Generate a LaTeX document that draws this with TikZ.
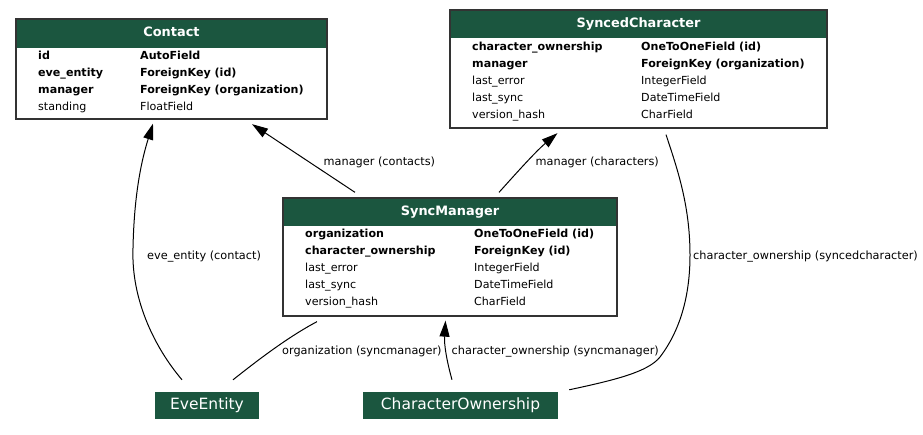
\documentclass[tikz,border=0pt]{standalone}
\usepackage{fontspec}
\setmainfont{DejaVu Sans}
\usetikzlibrary{arrows.meta}
\definecolor{hdr}{HTML}{1B563F}
\begin{document}
\begin{tikzpicture}[x=1pt,y=-1pt,
 tbl/.style={draw=black!80,line width=1.3pt,fill=white,rectangle,inner sep=0pt},
 hdrfill/.style={fill=hdr},
 ttl/.style={anchor=base,text=white,font=\fontsize{12.9}{14}\selectfont\bfseries,inner sep=0pt},
 fld/.style={anchor=base west,font=\fontsize{11.1}{13}\selectfont,inner sep=0pt},
 bfld/.style={anchor=base west,font=\fontsize{11.1}{13}\selectfont\bfseries,inner sep=0pt},
 ext/.style={fill=hdr,text=white,font=\fontsize{15.5}{17}\selectfont,inner sep=0pt,rectangle,minimum height=27pt,text height=11.5pt,text depth=3.5pt},
 lbl/.style={anchor=base west,font=\fontsize{11.3}{13}\selectfont,inner sep=0pt},
 rel/.style={line width=1pt,draw=black},
 arr/.style={rel,-{Triangle[length=16pt,width=10pt]}},
]
\useasboundingbox[fill=white] (0,0) rectangle (923,435);

% ---------- Contact ----------
\node[tbl,minimum width=311pt,minimum height=100pt] (contact) at (171.5,69) {};
\fill[hdrfill] ([shift={(2,2)}]contact.north west) rectangle ([shift={(-2,30)}]contact.north east);
\node[ttl] (contactT) at (171.5,36.7) {Contact};
\node[bfld] (c1a) at (38,59.3) {id};
\node[bfld] (c1b) at (140,59.3) {AutoField};
\node[bfld] (c2a) at (38,76.5) {eve\_entity};
\node[bfld] (c2b) at (140,76.5) {ForeignKey (id)};
\node[bfld] (c3a) at (38,93.7) {manager};
\node[bfld] (c3b) at (140,93.7) {ForeignKey (organization)};
\node[fld] (c4a) at (38,110.8) {standing};
\node[fld] (c4b) at (140,110.8) {FloatField};

% ---------- SyncedCharacter ----------
\node[tbl,minimum width=377pt,minimum height=118pt] (synced) at (638.5,69) {};
\fill[hdrfill] ([shift={(2,2)}]synced.north west) rectangle ([shift={(-2,29)}]synced.north east);
\node[ttl] (syncedT) at (638.5,27.3) {SyncedCharacter};
\node[bfld] (s1a) at (472,50.7) {character\_ownership};
\node[bfld] (s1b) at (641,50.7) {OneToOneField (id)};
\node[bfld] (s2a) at (472,67.8) {manager};
\node[bfld] (s2b) at (641,67.8) {ForeignKey (organization)};
\node[fld] (s3a) at (472,85) {last\_error};
\node[fld] (s3b) at (641,85) {IntegerField};
\node[fld] (s4a) at (472,102) {last\_sync};
\node[fld] (s4b) at (641,102) {DateTimeField};
\node[fld] (s5a) at (472,119) {version\_hash};
\node[fld] (s5b) at (641,119) {CharField};

% ---------- SyncManager ----------
\node[tbl,minimum width=334pt,minimum height=118pt] (syncmgr) at (450,257) {};
\fill[hdrfill] ([shift={(2,2)}]syncmgr.north west) rectangle ([shift={(-2,29)}]syncmgr.north east);
\node[ttl] (syncmgrT) at (450,216) {SyncManager};
\node[bfld] (m1a) at (305,238) {organization};
\node[bfld] (m1b) at (474,238) {OneToOneField (id)};
\node[bfld] (m2a) at (305,255) {character\_ownership};
\node[bfld] (m2b) at (474,255) {ForeignKey (id)};
\node[fld] (m3a) at (305,272) {last\_error};
\node[fld] (m3b) at (474,272) {IntegerField};
\node[fld] (m4a) at (305,289) {last\_sync};
\node[fld] (m4b) at (474,289) {DateTimeField};
\node[fld] (m5a) at (305,306) {version\_hash};
\node[fld] (m5b) at (474,306) {CharField};

% ---------- external models ----------
\node[ext,minimum width=104pt] (eve) at (207,405.5) {EveEntity};
\node[ext,minimum width=195pt] (charown) at (460.5,405.5) {CharacterOwnership};

% ---------- relations ----------
\draw[arr] ([shift={(-25,-12)}]eve.north) .. controls (155,348) and (131,300) .. (133,248)
  .. controls (134,200) and (140,165) .. ([shift={(-18.5,4)}]contact.south);
\node[lbl] (l1) at (147,260) {eve\_entity (contact)};

\draw[rel] ([shift={(26,-12)}]eve.north) .. controls (258,360) and (288,337) .. ([shift={(-133,5)}]syncmgr.south);
\node[lbl] (l2) at (282,354) {organization (syncmanager)};

\draw[arr] ([shift={(-8.5,-12)}]charown.north) .. controls (447,362) and (444,345) .. ([shift={(-4.5,4)}]syncmgr.south);
\node[lbl] (l3) at (451.5,354) {character\_ownership (syncmanager)};

\draw[rel] ([shift={(11,-2)}]charown.north east) .. controls (615,380) and (648,372) .. (660,357)
  .. controls (682,328) and (690,292) .. (690,255)
  .. controls (690,205) and (677,168) .. ([shift={(27.5,6)}]synced.south);
\node[lbl] (l4) at (693,259.5) {character\_ownership (syncedcharacter)};

\draw[arr] ([shift={(-95,-5)}]syncmgr.north) -- ([shift={(80.5,4.5)}]contact.south);
\node[lbl] (l5) at (323.5,166) {manager (contacts)};

\draw[arr] ([shift={(49,-5)}]syncmgr.north) .. controls (512,178) and (535,152) .. ([shift={(-81,4.5)}]synced.south);
\node[lbl] (l6) at (535.5,166) {manager (characters)};
\end{tikzpicture}
\end{document}
